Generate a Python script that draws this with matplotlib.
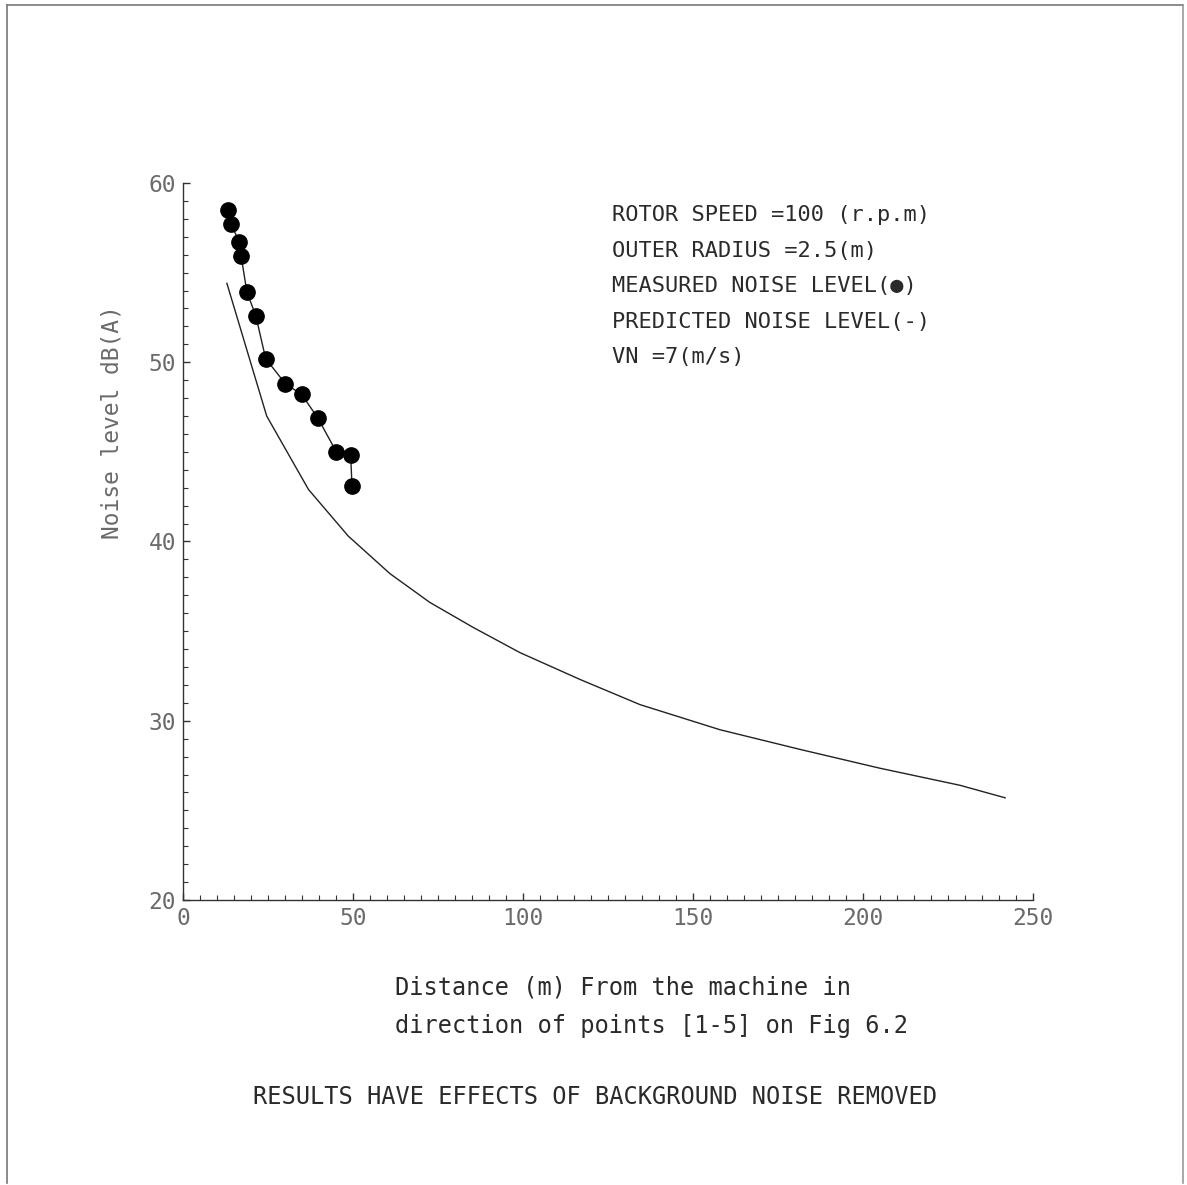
import matplotlib
matplotlib.use('Agg')
import matplotlib.pyplot as plt
from matplotlib.lines import Line2D
from matplotlib.ticker import MultipleLocator

# measured noise level (dots)
dist_meas = [13.1, 14.1, 16.6, 17.1, 18.8, 21.4, 24.3, 30.1, 34.9, 39.6, 45.1, 49.3, 49.7]
noise_meas = [58.5, 57.7, 56.7, 55.9, 53.9, 52.6, 50.2, 48.8, 48.2, 46.9, 45.0, 44.8, 43.1]

# predicted noise level (line)
dist_pred = [12.9, 24.6, 28.5, 36.9, 48.6, 60.9, 72.6, 85.4, 99.1, 116.8, 134.4,
             157.9, 181.5, 205.0, 228.5, 241.8]
noise_pred = [54.4, 47.0, 45.7, 42.9, 40.3, 38.2, 36.6, 35.2, 33.8, 32.3, 30.9,
              29.5, 28.4, 27.35, 26.4, 25.7]

xticks = [0, 50, 100, 150, 200, 250]
yticks = [20, 30, 40, 50, 60]

info = ['ROTOR SPEED =100 (r.p.m)',
        'OUTER RADIUS =2.5(m)',
        'MEASURED NOISE LEVEL(\u25cf)',
        'PREDICTED NOISE LEVEL(-)',
        'VN =7(m/s)']

mono = ['DejaVu Sans Mono']
txt_col = '#2a2a2a'
tick_col = '#6a6a6a'

fig = plt.figure(figsize=(11.87, 11.85), dpi=100)
ax = fig.add_axes([0.1542, 0.2405, 0.7161, 0.6051])

ax.plot(dist_pred, noise_pred, color='#222222', lw=1.0)
ax.plot(dist_meas, noise_meas, color='#222222', lw=1.0,
        marker='o', ms=11, mfc='black', mec='black')

ax.set_xlim(0, 250)
ax.set_ylim(20, 60)
ax.set_xticks(xticks)
ax.set_yticks(yticks)
ax.xaxis.set_minor_locator(MultipleLocator(5))
ax.yaxis.set_minor_locator(MultipleLocator(1))
for s in ['top', 'right']:
    ax.spines[s].set_visible(False)
for s in ['left', 'bottom']:
    ax.spines[s].set_color('#333333')
    ax.spines[s].set_linewidth(1.0)
ax.tick_params(which='major', direction='in', length=5, width=1, color='#333333',
               labelcolor=tick_col, pad=5)
ax.tick_params(which='minor', direction='in', length=3.5, width=0.8, color='#333333')
for lab in ax.get_xticklabels() + ax.get_yticklabels():
    lab.set_family(mono)
    lab.set_fontsize(16.5)
for lab in ax.get_yticklabels():
    lab.set_verticalalignment('center_baseline')

ax.set_ylabel('Noise level dB(A)', family=mono, fontsize=16.5, color=tick_col)
ax.yaxis.set_label_coords(-0.07, 0.667)

for i, t in enumerate(info):
    ax.text(0.505, 0.955 - i * 0.0495, t, transform=ax.transAxes, family=mono,
            fontsize=15.8, color=txt_col, va='center', ha='left')

fig.text(395 / 1187, 1 - 988 / 1185, 'Distance (m) From the machine in',
         family=mono, fontsize=17, color=txt_col, va='center', ha='left')
fig.text(395 / 1187, 1 - 1026 / 1185, 'direction of points [1-5] on Fig 6.2',
         family=mono, fontsize=17, color=txt_col, va='center', ha='left')
fig.text(595 / 1187, 1 - 1097 / 1185, 'RESULTS HAVE EFFECTS OF BACKGROUND NOISE REMOVED',
         family=mono, fontsize=17, color=txt_col, va='center', ha='center')

# scanned page border
fig.add_artist(Line2D([7 / 1187, 7 / 1187], [0.002, 1 - 5 / 1185], color='#777777', lw=1.2))
fig.add_artist(Line2D([7 / 1187, 1183 / 1187], [1 - 5 / 1185, 1 - 5 / 1185], color='#777777', lw=1.2))
fig.add_artist(Line2D([1183 / 1187, 1183 / 1187], [0.002, 1 - 5 / 1185], color='#999999', lw=1.2))

fig.savefig('out.png', dpi=100)
